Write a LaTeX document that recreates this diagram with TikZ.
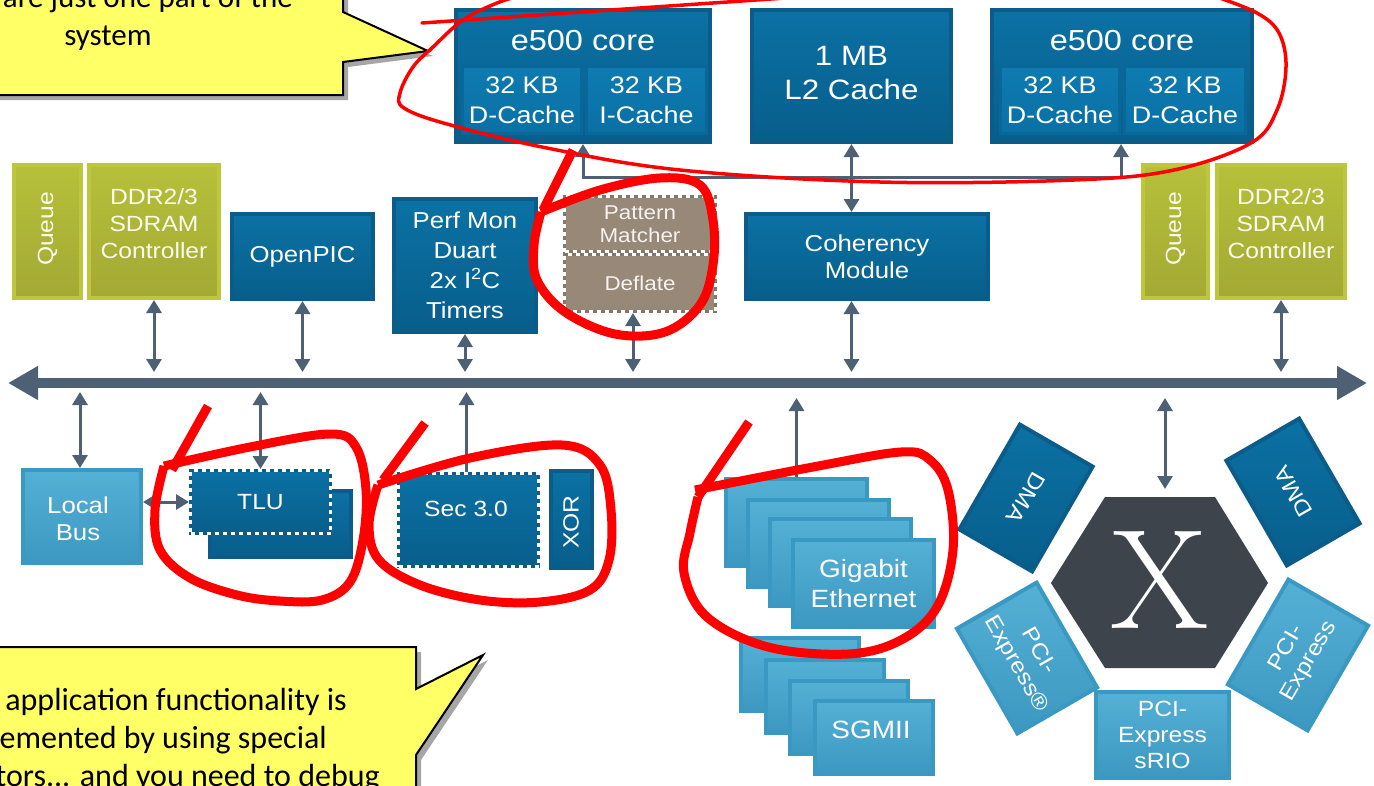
\documentclass[tikz,border=0pt]{standalone}
\usepackage{fontspec}
\newfontfamily\blkfont[FakeStretch=1.12]{Liberation Sans}
\newfontfamily\callfont{Carlito}
\usetikzlibrary{shapes.geometric,arrows.meta,positioning,shadows}

\definecolor{busgray}{HTML}{4E6174}
\definecolor{dkedge}{HTML}{0B5C88}
\definecolor{dktop}{HTML}{0B71A4}
\definecolor{dkbot}{HTML}{075E8B}
\definecolor{sbedge}{HTML}{0A6799}
\definecolor{sbtop}{HTML}{0E7BB1}
\definecolor{sbbot}{HTML}{0A70A5}
\definecolor{olvedge}{HTML}{BDC73D}
\definecolor{olvtop}{HTML}{B7C03A}
\definecolor{olvbot}{HTML}{A3A934}
\definecolor{ltedge}{HTML}{3A99C2}
\definecolor{lttop}{HTML}{55B0D6}
\definecolor{ltbot}{HTML}{3C98C0}
\definecolor{pmbrown}{HTML}{988878}
\definecolor{pmedge}{HTML}{857768}
\definecolor{hexgray}{HTML}{3D444B}
\definecolor{callyellow}{HTML}{FFFF66}
\definecolor{penred}{HTML}{FF0000}

\tikzset{
    blk/.style={inner sep=0pt, align=center, text=white, font=\blkfont\fontsize{23}{27}\selectfont},
    dblock/.style={blk, draw=dkedge, line width=4pt, top color=dktop, bottom color=dkbot},
    sblock/.style={blk, draw=sbedge, line width=3pt, top color=sbtop, bottom color=sbbot, font=\blkfont\fontsize{24}{30}\selectfont},
    oblock/.style={blk, draw=olvedge, line width=4pt, top color=olvtop, bottom color=olvbot, text=white!92!olvtop, font=\blkfont\fontsize{22}{27}\selectfont},
    lblock/.style={blk, draw=ltedge, line width=4pt, top color=lttop, bottom color=ltbot},
    dotblock/.style={blk, draw=dkedge, line width=3pt, top color=dktop, bottom color=dkbot, postaction={draw=white, line width=3pt, dash pattern=on 4pt off 4pt}},
    pmblock/.style={blk, draw=pmedge, line width=3pt, fill=pmbrown, text=white!90!pmbrown, font=\blkfont\fontsize{20}{23}\selectfont, postaction={draw=white, line width=3pt, dash pattern=on 4pt off 4pt}},
    blktext/.style={inner sep=0pt, align=center, text=white, font=\blkfont\fontsize{23}{27}\selectfont},
    conn/.style={draw=busgray, line width=3pt},
    bus/.style={draw=busgray, line width=10pt, {Triangle[length=30pt,width=32pt]}-{Triangle[length=30pt,width=32pt]}},
    callout/.style={fill=callyellow, draw=black, line width=2pt, drop shadow={shadow xshift=5pt, shadow yshift=-5pt, fill=black, opacity=0.35}},
    calltext/.style={inner sep=0pt, font=\callfont\fontsize{31}{37}\selectfont},
    redpen/.style={draw=penred, line width=9pt, line join=round},
    redthin/.style={draw=penred, line width=3.5pt, line cap=round, line join=round}
}

\begin{document}
\begin{tikzpicture}[x=1pt, y=-1pt, >={Triangle[length=13pt,width=15pt]}]
    \useasboundingbox (0,0) rectangle (1374,785);
    \clip (0,0) rectangle (1374,785);
    \fill[white] (0,0) rectangle (1374,785);

    % Callouts
    \draw[callout] (-20,-20) -- (343,-20) -- (343,12) -- (428,51) -- (343,62) -- (343,95) -- (-20,95) -- cycle;
    \node[calltext, anchor=base east] (calltop1) at (293,7) {are just one part of the};
    \node[calltext, anchor=base] (calltop2) at (108,45) {system};

    \draw[callout] (-20,647) -- (416,647) -- (416,689) -- (483,655) -- (416,755) -- (416,800) -- (-20,800) -- cycle;
    \node[calltext, anchor=base east, font=\callfont\fontsize{32}{38}\selectfont] (callbot1) at (347,710) {application functionality is};
    \node[calltext, anchor=base east, font=\callfont\fontsize{32}{38}\selectfont] (callbot2) at (327,748) {emented by using special};
    \node[calltext, anchor=base east, font=\callfont\fontsize{32}{38}\selectfont] (callbot3) at (380,786) {tors... and you need to debug};

    % Cores and L2
    \node[dblock, minimum width=254pt, minimum height=132pt] (core1) at (583,76) {};
    \node[blktext, font=\blkfont\fontsize{29}{32}\selectfont] (core1lbl) at (583,41) {e500 core};
    \node[sblock, minimum width=119pt, minimum height=67pt] (dcache1) at (522,100) {32 KB\\D-Cache};
    \node[sblock, minimum width=120pt, minimum height=67pt] (icache1) at (646.5,100) {32 KB\\I-Cache};

    \node[dblock, minimum width=199pt, minimum height=132pt] (l2) at (851.5,76) {};
    \node[blktext, font=\blkfont\fontsize{28}{34}\selectfont] (l2txt) at (851.5,73) {1 MB\\L2 Cache};

    \node[dblock, minimum width=260pt, minimum height=132pt] (core2) at (1122,76) {};
    \node[blktext, font=\blkfont\fontsize{29}{32}\selectfont] (core2lbl) at (1122,41) {e500 core};
    \node[sblock, minimum width=119pt, minimum height=67pt] (dcache2a) at (1060,100) {32 KB\\D-Cache};
    \node[sblock, minimum width=121pt, minimum height=67pt] (dcache2b) at (1185,100) {32 KB\\D-Cache};

    % Middle row
    \node[oblock, minimum width=67pt, minimum height=133pt] (queueL) at (47.5,231.5) {};
    \node[blktext, rotate=90, text=white!92!olvtop, font=\blkfont\fontsize{22}{27}\selectfont] (queueLtxt) at (47.5,229) {Queue};
    \node[oblock, minimum width=130pt, minimum height=133pt] (ddrL) at (154,231.5) {};
    \node[blktext, text=white!92!olvtop, font=\blkfont\fontsize{22}{27}\selectfont] (ddrLtxt) at (154,223.5) {DDR2/3\\SDRAM\\Controller};
    \node[dblock, minimum width=141pt, minimum height=85pt] (openpic) at (302.5,256.5) {OpenPIC};
    \node[dblock, minimum width=142pt, minimum height=133pt, font=\blkfont\fontsize{23}{30}\selectfont] (perfmon) at (465,265.5) {Perf Mon\\Duart\\2x I\textsuperscript{2}C\\Timers};
    \node[pmblock, minimum width=151pt, minimum height=55pt] (patmatch) at (640,224) {Pattern\\Matcher};
    \node[pmblock, minimum width=151pt, minimum height=57pt] (deflate) at (640,283) {Deflate};
    \node[dblock, minimum width=242pt, minimum height=85pt] (coherency) at (867,256.5) {Coherency\\Module};
    \node[oblock, minimum width=65pt, minimum height=133pt] (queueR) at (1175.5,231.5) {};
    \node[blktext, rotate=90, text=white!92!olvtop, font=\blkfont\fontsize{22}{27}\selectfont] (queueRtxt) at (1175.5,229) {Queue};
    \node[oblock, minimum width=128pt, minimum height=133pt] (ddrR) at (1281,231.5) {};
    \node[blktext, text=white!92!olvtop, font=\blkfont\fontsize{22}{27}\selectfont] (ddrRtxt) at (1281,223.5) {DDR2/3\\SDRAM\\Controller};

    % Bus
    \coordinate (busL) at (8,383);
    \coordinate (busR) at (1367,383);
    \coordinate (bustop) at (0,372);
    \coordinate (busbot) at (0,392);
    \coordinate (hub) at (851.5,177);
    \draw[bus] (busL) -- (busR);

    % Bottom row
    \node[lblock, minimum width=118pt, minimum height=93pt] (localbus) at (82,516.5) {};
    \node[blktext] (localbustxt) at (78,519) {\blkfont\fontsize{23}{31}\selectfont Local\\Bus};
    \node[dblock, minimum width=141pt, minimum height=66pt] (tluback) at (280.5,524) {};
    \node[dotblock, minimum width=140pt, minimum height=63pt, font=\blkfont\fontsize{22}{26}\selectfont] (tlu) at (260.5,502) {TLU};
    \node[dotblock, minimum width=140pt, minimum height=93pt] (sec) at (468.5,520) {};
    \node[blktext, font=\blkfont\fontsize{22}{26}\selectfont] (sectxt) at (466,509) {Sec 3.0};
    \node[dblock, minimum width=41pt, minimum height=97pt] (xor) at (571.5,519.5) {};
    \node[blktext, rotate=90, font=\blkfont\fontsize{22}{26}\selectfont] (xortxt) at (571,522) {XOR};

    \foreach \i/\x/\y in {1/796.5/522.5, 2/818.5/543.5, 3/840.5/562.5} {
        \node[lblock, minimum width=141pt, minimum height=87pt] (gbe\i) at (\x,\y) {};
    }
    \node[lblock, minimum width=141pt, minimum height=87pt, font=\blkfont\fontsize{25}{30}\selectfont] (gbe4) at (863.5,583.5) {Gigabit\\Ethernet};

    \foreach \i/\x/\y in {1/800/674.5, 2/825/696.5, 3/849/717.5, 4/874/737.5} {
        \node[lblock, minimum width=118pt, minimum height=73pt] (sgmii\i) at (\x,\y) {};
    }
    \node[blktext, font=\blkfont\fontsize{25}{30}\selectfont] (sgmiitxt) at (871,730) {SGMII};

    % Switch fabric
    \fill[hexgray] (1051,583) -- (1105,497) -- (1215,497) -- (1268,583) -- (1215,668) -- (1105,668) -- cycle;
    \node[inner sep=0pt, text=white, font=\rmfamily\fontsize{142}{142}\selectfont] (xbar) at (1160,580) {X};
    \node[dblock, rotate=-120, minimum width=121pt, minimum height=84pt, font=\blkfont\fontsize{22}{26}\selectfont] (dmaL) at (1026,498) {DMA};
    \node[dblock, rotate=120, minimum width=121pt, minimum height=84pt, font=\blkfont\fontsize{22}{26}\selectfont] (dmaR) at (1293,492) {DMA};
    \node[lblock, rotate=-60, minimum width=121pt, minimum height=92pt, font=\blkfont\fontsize{22}{26}\selectfont] (pcieL) at (1027,658) {PCI-\\Express®};
    \node[lblock, rotate=60, minimum width=121pt, minimum height=92pt, font=\blkfont\fontsize{22}{26}\selectfont] (pcieR) at (1298,655) {PCI-\\Express};
    \node[lblock, minimum width=133pt, minimum height=86pt, font=\blkfont\fontsize{22}{26}\selectfont] (pcieB) at (1162.5,735) {PCI-\\Express\\sRIO};
    \coordinate (hextop) at (1165,489);

    % Connectors
    \draw[conn, ->] (hub) -| (dcache1.east |- core1.south);
    \draw[conn, ->] (hub) -| (dcache2a.east |- core2.south);
    \draw[conn, <->] (l2.south) -- (l2.south |- coherency.north);

    \draw[conn, <->] (ddrL.south) -- (ddrL.south |- bustop);
    \draw[conn, <->] (openpic.south) -- (openpic.south |- bustop);
    \draw[conn, <->] (perfmon.south) -- (perfmon.south |- bustop);
    \draw[conn, <->] ([xshift=-7pt]deflate.south) -- ([xshift=-7pt]deflate.south |- bustop);
    \draw[conn, <->] (coherency.south -| l2.south) -- (l2.south |- bustop);
    \draw[conn, <->] (ddrR.south) -- (ddrR.south |- bustop);

    \draw[conn, <->] ([xshift=-2pt]localbus.north) -- ([xshift=-2pt]localbus.north |- busbot);
    \draw[conn, <->] (tlu.north) -- (tlu.north |- busbot);
    \draw[conn, ->] ([xshift=-2pt]sec.north) -- ([xshift=-2pt]sec.north |- busbot);
    \draw[conn, ->] (gbe1.north) -- ([yshift=-6pt]gbe1.north |- busbot);
    \draw[conn, <->] (hextop) -- ([yshift=-6pt]hextop |- busbot);
    \draw[conn, <->] (localbus.east |- tlu.west) -- (tlu.west);

    % Red pen marks
    \draw[redthin] (422,23) -- (800,-3);
    \draw[redthin] plot[smooth, tension=0.6] coordinates {(520,-4) (497,3) (463,20) (433,47) (413,67) (400,93) (404,108) (447,124) (547,148) (680,170) (880,182) (1074,180) (1174,170) (1251,143) (1277,110) (1286,67) (1279,33) (1257,13) (1214,-4)};

    \draw[redpen] (573,150) -- (543,210);
    \draw[redpen] plot[smooth, tension=0.6] coordinates {(541,212) (600,190) (660,178) (700,185) (713,220) (713,265) (700,305) (665,332) (615,334) (565,312) (537,280) (534,245) (541,212)};

    \draw[redpen] (208,406) -- (172,470);
    \draw[redpen] plot[smooth, tension=0.6] coordinates {(164,466) (250,447) (330,434) (356,447) (366,490) (363,540) (350,582) (322,600) (280,601) (237,595) (190,578) (160,550) (155,510) (164,466)};

    \draw[redpen] (425,423) -- (383,480);
    \draw[redpen] plot[smooth, tension=0.6] coordinates {(378,485) (470,458) (562,445) (600,465) (611,510) (609,560) (590,590) (540,602) (480,600) (420,585) (379,560) (369,525) (378,485)};

    \draw[redpen] (749,422) -- (698,497);
    \draw[redpen] plot[smooth, tension=0.6] coordinates {(695,490) (813,467) (901,452) (930,460) (948,490) (953,550) (937,607) (901,640) (848,654) (768,647) (707,617) (684,573) (690,533) (698,497)};
\end{tikzpicture}
\end{document}
